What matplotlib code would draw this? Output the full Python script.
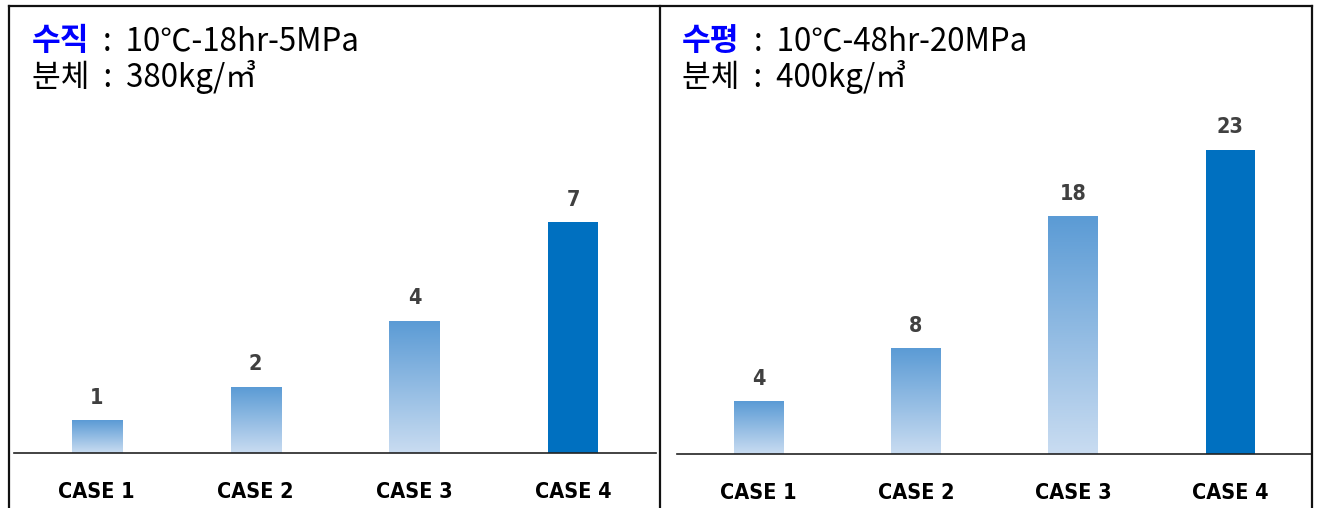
import matplotlib
matplotlib.use('Agg')
import matplotlib.pyplot as plt
import numpy as np
from matplotlib.colors import LinearSegmentedColormap
from matplotlib.lines import Line2D
from matplotlib import font_manager

plt.rcParams['font.family'] = ['Noto Sans CJK KR', 'DejaVu Sans']

categories = ['CASE 1', 'CASE 2', 'CASE 3', 'CASE 4']
left_values = [1, 2, 4, 7]
right_values = [4, 8, 18, 23]
left_head = ['수직', '  :  10℃-18hr-5MPa', '분체  :  380kg/㎥']
right_head = ['수평', '  :  10℃-48hr-20MPa', '분체  :  400kg/㎥']

W, H = 1318, 508
fig = plt.figure(figsize=(W / 100, H / 100), dpi=100)

grad = LinearSegmentedColormap.from_list('g', ['#c9dcf1', '#5b9bd5'])
solid = '#0070c0'

# condensed bold face for the labels if one is installed
names = set(f.name for f in font_manager.fontManager.ttflist)
print(sorted(names))
case_font = ['DejaVu Sans']
case_stretch = 'condensed'


def px(x0, x1, y0, y1):
    # pixel box (from top-left) -> figure fraction rect
    return [x0 / W, 1 - y1 / H, (x1 - x0) / W, (y1 - y0) / H]


def panel(rect, values, ymax):
    ax = fig.add_axes(rect)
    ax.set_xlim(-0.52, 3.52)
    ax.set_ylim(0, ymax)
    x = np.arange(len(values))
    bars = ax.bar(x, values, width=0.315, color='none', edgecolor='none')
    for i, b in enumerate(bars):
        if i < 3:
            g = np.linspace(0, 1, 256).reshape(-1, 1)
            im = ax.imshow(g, cmap=grad, origin='lower', aspect='auto',
                           extent=[b.get_x(), b.get_x() + b.get_width(), 0, b.get_height()],
                           zorder=2)
            im.set_clip_path(b)
        else:
            b.set_facecolor(solid)
            b.set_zorder(2)
        ax.annotate(str(values[i]), (b.get_x() + b.get_width() / 2, b.get_height()),
                    xytext=(0, 9), textcoords='offset points', ha='center', va='bottom',
                    fontsize=15.5, fontweight='bold', color='#404040', family=case_font,
                    fontstretch=case_stretch)
    ax.set_xticks(x)
    ax.set_xticklabels(categories, fontsize=15.5, fontweight='bold', family=case_font,
                       fontstretch=case_stretch)
    ax.tick_params(axis='x', length=0, pad=21)
    ax.set_yticks([])
    for s in ['top', 'right', 'left']:
        ax.spines[s].set_visible(False)
    ax.spines['bottom'].set_color('#222222')
    ax.spines['bottom'].set_linewidth(1.2)
    ax.patch.set_alpha(0)
    return ax


panel(px(14, 656, 5, 453), left_values, 448 / 33.0)
panel(px(677, 1312, 5, 454), right_values, 449 / 13.22)

# panel borders
for xs, ys in [([9, 9], [508, 6]), ([9, 1312], [6, 6]), ([660, 660], [508, 6]), ([1312, 1312], [508, 6])]:
    fig.add_artist(Line2D([v / W for v in xs], [1 - v / H for v in ys], color='#111111', lw=1.6))

renderer = fig.canvas.get_renderer()


def heading(x0, parts):
    t = fig.text(x0 / W, 1 - 41 / H, parts[0], fontsize=22.5, fontweight='bold', color='#0000ff', va='center')
    bb = t.get_window_extent(renderer)
    fig.text(bb.x1 / W, 1 - 41 / H, parts[1], fontsize=22.5, color='black', va='center')
    fig.text(x0 / W, 1 - 77 / H, parts[2], fontsize=22.5, color='black', va='center')


heading(32, left_head)
heading(682, right_head)

fig.savefig('out.png', dpi=100)
